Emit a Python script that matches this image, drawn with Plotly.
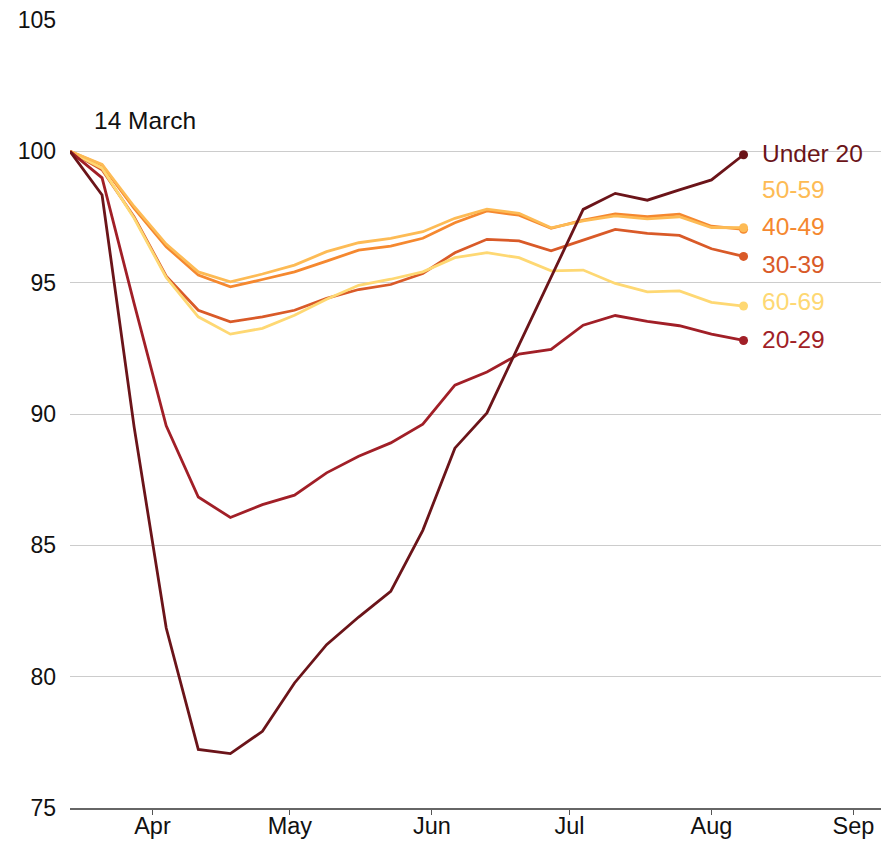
import pandas as pd
import plotly.graph_objects as go

# ---- data ----
dates = pd.date_range("2020-03-14", periods=22, freq="7D")

under_20 = [100, 98.34, 89.5, 81.85, 77.23, 77.07, 77.92, 79.76, 81.22, 82.27, 83.25,
            85.57, 88.7, 90.04, 92.63, 95.21, 97.79, 98.4, 98.14, 98.53, 98.91, 99.87]
age_20_29 = [100, 98.99, 94.2, 89.55, 86.84, 86.06, 86.55, 86.91, 87.76, 88.39, 88.9,
             89.61, 91.1, 91.6, 92.28, 92.46, 93.38, 93.75, 93.53, 93.36, 93.04, 92.8]
age_30_39 = [100, 99.3, 97.5, 95.25, 93.95, 93.51, 93.7, 93.95, 94.4, 94.74, 94.93,
             95.35, 96.14, 96.65, 96.59, 96.21, 96.62, 97.03, 96.88, 96.8, 96.29, 96.0]
age_40_49 = [100, 99.47, 97.83, 96.37, 95.29, 94.84, 95.12, 95.41, 95.82, 96.24, 96.39,
             96.69, 97.28, 97.73, 97.57, 97.07, 97.38, 97.62, 97.51, 97.61, 97.15, 97.03]
age_50_59 = [100, 99.5, 97.9, 96.47, 95.41, 95.03, 95.33, 95.67, 96.18, 96.52, 96.69,
             96.94, 97.45, 97.8, 97.64, 97.09, 97.35, 97.54, 97.43, 97.51, 97.1, 97.09]
age_60_69 = [100, 99.36, 97.45, 95.2, 93.7, 93.04, 93.26, 93.76, 94.37, 94.9, 95.13,
             95.41, 95.95, 96.14, 95.95, 95.45, 95.48, 94.97, 94.65, 94.69, 94.25, 94.11]

series_names = ["30-39", "40-49", "60-69", "50-59", "20-29", "Under 20"]
series_values = [age_30_39, age_40_49, age_60_69, age_50_59, age_20_29, under_20]

y_ticks = [75, 80, 85, 90, 95, 100, 105]
start_label = "14 March"

# ---- styling ----
colors = {
    "Under 20": "#6b1419",
    "20-29": "#a11f27",
    "30-39": "#d95a28",
    "40-49": "#f5882f",
    "50-59": "#fdbb55",
    "60-69": "#fed873",
}
# end-label vertical placement (de-overlapped), in axis units
label_pos = {
    "Under 20": 99.9,
    "50-59": 98.53,
    "40-49": 97.12,
    "30-39": 95.71,
    "60-69": 94.3,
    "20-29": 92.85,
}

FONT = "Liberation Sans, Arial, Helvetica, sans-serif"

fig = go.Figure()
for name, vals in zip(series_names, series_values):
    fig.add_trace(go.Scatter(
        x=dates, y=vals, mode="lines", name=name,
        line=dict(color=colors[name], width=2.8),
        hoverinfo="skip", showlegend=False,
    ))
for name, vals in zip(series_names, series_values):
    fig.add_trace(go.Scatter(
        x=[dates[-1]], y=[vals[-1]], mode="markers",
        marker=dict(color=colors[name], size=9),
        hoverinfo="skip", showlegend=False,
    ))
    fig.add_annotation(
        x=dates[-1], y=label_pos[name], text=name, showarrow=False,
        xanchor="left", yanchor="middle", xshift=16,
        font=dict(family=FONT, size=24.5, color=colors[name]),
    )

fig.add_annotation(
    x=dates[0], y=101.19, text=start_label, showarrow=False,
    xanchor="left", yanchor="middle", xshift=22,
    font=dict(family=FONT, size=24.5, color="#111111"),
)

fig.update_layout(
    width=894, height=841,
    margin=dict(l=70, r=13, t=20, b=33),
    paper_bgcolor="white", plot_bgcolor="white",
    font=dict(family=FONT, size=23, color="#111111"),
)
fig.update_xaxes(
    range=["2020-03-14", "2020-09-07"],
    tickformat="%b", dtick="M1", tick0="2020-04-01",
    ticks="outside", ticklen=5, tickcolor="#555555", tickwidth=1,
    showline=True, linecolor="#666666", linewidth=2,
    showgrid=False, zeroline=False, automargin=False,
    ticklabelstandoff=-9,
    tickfont=dict(family=FONT, size=23.5, color="#111111"),
)
fig.update_yaxes(
    range=[75, 105], tickvals=y_ticks,
    showgrid=True, gridcolor="#cccccc", gridwidth=1,
    zeroline=False, showline=False, ticks="",
    ticklabelstandoff=13, automargin=False,
    tickfont=dict(family=FONT, size=23, color="#111111"),
)

fig.write_html(
    "out.html",
    config={"displayModeBar": False},
    post_script="document.body.style.margin='0';document.body.style.overflow='hidden';",
)
